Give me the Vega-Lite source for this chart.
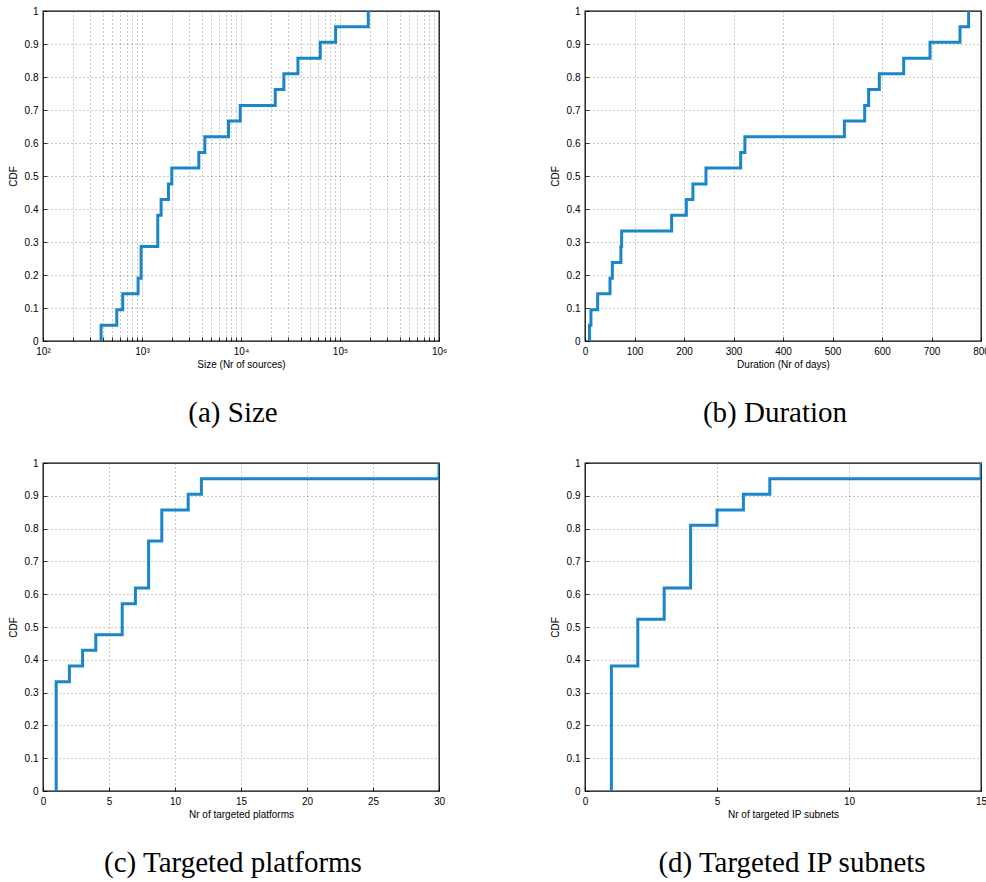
{
  "$schema": "https://vega.github.io/schema/vega-lite/v6.json",
  "padding": {"left": 7, "top": 5, "right": 0, "bottom": 0},
  "background": "white",
  "datasets": {
    "size": [
      {"x": 386, "cdf": 0, "i": 0},
      {"x": 386, "cdf": 0.048, "i": 1},
      {"x": 556, "cdf": 0.095, "i": 2},
      {"x": 639, "cdf": 0.143, "i": 3},
      {"x": 913, "cdf": 0.190, "i": 4},
      {"x": 980, "cdf": 0.286, "i": 5},
      {"x": 1443, "cdf": 0.381, "i": 6},
      {"x": 1560, "cdf": 0.429, "i": 7},
      {"x": 1850, "cdf": 0.476, "i": 8},
      {"x": 2000, "cdf": 0.524, "i": 9},
      {"x": 3750, "cdf": 0.571, "i": 10},
      {"x": 4310, "cdf": 0.619, "i": 11},
      {"x": 7480, "cdf": 0.667, "i": 12},
      {"x": 9820, "cdf": 0.714, "i": 13},
      {"x": 22180, "cdf": 0.762, "i": 14},
      {"x": 27100, "cdf": 0.810, "i": 15},
      {"x": 37580, "cdf": 0.857, "i": 16},
      {"x": 63200, "cdf": 0.905, "i": 17},
      {"x": 90300, "cdf": 0.952, "i": 18},
      {"x": 193000, "cdf": 1.0, "i": 19}
    ],
    "duration": [
      {"x": 9, "cdf": 0, "i": 0},
      {"x": 9, "cdf": 0.048, "i": 1},
      {"x": 12, "cdf": 0.095, "i": 2},
      {"x": 25.6, "cdf": 0.143, "i": 3},
      {"x": 50.5, "cdf": 0.190, "i": 4},
      {"x": 55.2, "cdf": 0.238, "i": 5},
      {"x": 72.5, "cdf": 0.286, "i": 6},
      {"x": 74, "cdf": 0.333, "i": 7},
      {"x": 175, "cdf": 0.381, "i": 8},
      {"x": 204.7, "cdf": 0.429, "i": 9},
      {"x": 218, "cdf": 0.476, "i": 10},
      {"x": 244.4, "cdf": 0.524, "i": 11},
      {"x": 314.5, "cdf": 0.571, "i": 12},
      {"x": 323, "cdf": 0.619, "i": 13},
      {"x": 524, "cdf": 0.667, "i": 14},
      {"x": 565, "cdf": 0.714, "i": 15},
      {"x": 573, "cdf": 0.762, "i": 16},
      {"x": 594.6, "cdf": 0.810, "i": 17},
      {"x": 643.8, "cdf": 0.857, "i": 18},
      {"x": 697, "cdf": 0.905, "i": 19},
      {"x": 757.6, "cdf": 0.952, "i": 20},
      {"x": 775, "cdf": 1.0, "i": 21}
    ],
    "platforms": [
      {"x": 1, "cdf": 0, "i": 0},
      {"x": 1, "cdf": 0.333, "i": 1},
      {"x": 2, "cdf": 0.381, "i": 2},
      {"x": 3, "cdf": 0.429, "i": 3},
      {"x": 4, "cdf": 0.476, "i": 4},
      {"x": 6, "cdf": 0.571, "i": 5},
      {"x": 7, "cdf": 0.619, "i": 6},
      {"x": 8, "cdf": 0.762, "i": 7},
      {"x": 9, "cdf": 0.857, "i": 8},
      {"x": 11, "cdf": 0.905, "i": 9},
      {"x": 12, "cdf": 0.952, "i": 10},
      {"x": 30, "cdf": 1.0, "i": 11}
    ],
    "subnets": [
      {"x": 1, "cdf": 0, "i": 0},
      {"x": 1, "cdf": 0.381, "i": 1},
      {"x": 2, "cdf": 0.524, "i": 2},
      {"x": 3, "cdf": 0.619, "i": 3},
      {"x": 4, "cdf": 0.810, "i": 4},
      {"x": 5, "cdf": 0.857, "i": 5},
      {"x": 6, "cdf": 0.905, "i": 6},
      {"x": 7, "cdf": 0.952, "i": 7},
      {"x": 15, "cdf": 1.0, "i": 8}
    ]
  },
  "columns": 2,
  "bounds": "flush",
  "spacing": {"column": 146, "row": 122},
  "concat": [
    {
      "width": 396, "height": 330,
      "title": {"text": "(a) Size", "orient": "bottom", "dx": -8, "offset": 30},
      "data": {"name": "size"},
      "mark": {"type": "line", "interpolate": "step-after", "clip": true},
      "encoding": {
        "x": {"field": "x", "type": "quantitative",
              "scale": {"type": "log", "domain": [100, 1000000], "nice": false},
              "axis": {"title": "Size (Nr of sources)",
                       "values": [100,200,300,400,500,600,700,800,900,1000,2000,3000,4000,5000,6000,7000,8000,9000,10000,20000,30000,40000,50000,60000,70000,80000,90000,100000,200000,300000,400000,500000,600000,700000,800000,900000,1000000],
                       "labelExpr": "datum.value == 100 ? '10²' : datum.value == 1000 ? '10³' : datum.value == 10000 ? '10⁴' : datum.value == 100000 ? '10⁵' : datum.value == 1000000 ? '10⁶' : ''"}},
        "y": {"field": "cdf", "type": "quantitative", "scale": {"domain": [0, 1], "nice": false},
              "axis": {"title": "CDF", "values": [0,0.1,0.2,0.3,0.4,0.5,0.6,0.7,0.8,0.9,1], "format": "~g"}},
        "order": {"field": "i", "type": "quantitative"}
      }
    },
    {
      "width": 396, "height": 330,
      "title": {"text": "(b) Duration", "orient": "bottom", "dx": -8, "offset": 30},
      "data": {"name": "duration"},
      "mark": {"type": "line", "interpolate": "step-after", "clip": true},
      "encoding": {
        "x": {"field": "x", "type": "quantitative",
              "scale": {"domain": [0, 800], "nice": false},
              "axis": {"title": "Duration (Nr of days)", "values": [0,100,200,300,400,500,600,700,800]}},
        "y": {"field": "cdf", "type": "quantitative", "scale": {"domain": [0, 1], "nice": false},
              "axis": {"title": "CDF", "values": [0,0.1,0.2,0.3,0.4,0.5,0.6,0.7,0.8,0.9,1], "format": "~g"}},
        "order": {"field": "i", "type": "quantitative"}
      }
    },
    {
      "width": 396, "height": 328,
      "title": {"text": "(c) Targeted platforms", "orient": "bottom", "dx": -8, "offset": 30},
      "data": {"name": "platforms"},
      "mark": {"type": "line", "interpolate": "step-after", "clip": true},
      "encoding": {
        "x": {"field": "x", "type": "quantitative",
              "scale": {"domain": [0, 30], "nice": false},
              "axis": {"title": "Nr of targeted platforms", "values": [0,5,10,15,20,25,30]}},
        "y": {"field": "cdf", "type": "quantitative", "scale": {"domain": [0, 1], "nice": false},
              "axis": {"title": "CDF", "values": [0,0.1,0.2,0.3,0.4,0.5,0.6,0.7,0.8,0.9,1], "format": "~g"}},
        "order": {"field": "i", "type": "quantitative"}
      }
    },
    {
      "width": 396, "height": 328,
      "title": {"text": "(d) Targeted IP subnets", "orient": "bottom", "dx": 9, "offset": 30},
      "data": {"name": "subnets"},
      "mark": {"type": "line", "interpolate": "step-after", "clip": true},
      "encoding": {
        "x": {"field": "x", "type": "quantitative",
              "scale": {"domain": [0, 15], "nice": false},
              "axis": {"title": "Nr of targeted IP subnets", "values": [0,5,10,15]}},
        "y": {"field": "cdf", "type": "quantitative", "scale": {"domain": [0, 1], "nice": false},
              "axis": {"title": "CDF", "values": [0,0.1,0.2,0.3,0.4,0.5,0.6,0.7,0.8,0.9,1], "format": "~g"}},
        "order": {"field": "i", "type": "quantitative"}
      }
    }
  ],
  "config": {
    "font": "Liberation Sans",
    "view": {"stroke": "black", "strokeWidth": 1.3},
    "line": {"color": "#1a86c8", "strokeWidth": 3},
    "axis": {
      "domain": false,
      "grid": true,
      "gridColor": "#555555",
      "gridDash": [1, 3],
      "gridWidth": 0.8,
      "gridOpacity": 0.8,
      "ticks": true,
      "tickSize": -4,
      "tickColor": "black",
      "tickWidth": 0.8,
      "labelFont": "Liberation Sans",
      "labelFontSize": 10,
      "labelColor": "black",
      "labelPadding": 9,
      "labelFlush": false,
      "labelOverlap": false,
      "titleFont": "Liberation Sans",
      "titleFontSize": 10,
      "titleFontWeight": "normal",
      "titleColor": "black"
    },
    "axisX": {"titlePadding": 3},
    "axisY": {"titlePadding": 6},
    "title": {"font": "Liberation Serif", "fontSize": 29, "fontWeight": "normal", "color": "black", "anchor": "middle"}
  }
}
